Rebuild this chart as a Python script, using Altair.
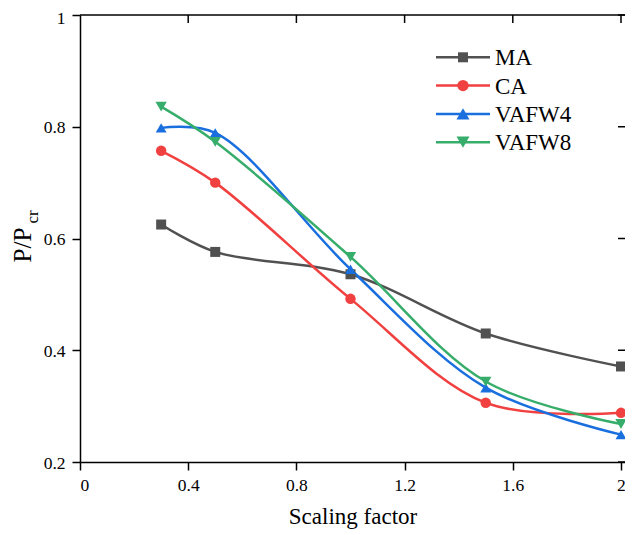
import altair as alt
import pandas as pd

# ---- data ----
x_vals = [0.3, 0.5, 1.0, 1.5, 2.0]
series = ["MA", "CA", "VAFW4", "VAFW8"]
ma = [0.625, 0.576, 0.536, 0.430, 0.371]
ca = [0.757, 0.700, 0.492, 0.306, 0.288]
vafw4 = [0.798, 0.789, 0.545, 0.333, 0.249]
vafw8 = [0.836, 0.773, 0.567, 0.344, 0.268]
colors = ["#515151", "#F14040", "#1A6FDF", "#37AD6B"]
shapes = ["square", "circle", "triangle-up", "triangle-down"]
sizes = [100, 128, 170, 170]
x_ticks = [0, 0.4, 0.8, 1.2, 1.6, 2]
y_ticks = [0.2, 0.4, 0.6, 0.8, 1]

W, H = 545, 447
XMAX = 2.0148
FONT = "Liberation Serif"

rows = []
for name, vals in zip(series, [ma, ca, vafw4, vafw8]):
    for xv, yv in zip(x_vals, vals):
        rows.append({"series": name, "x": xv, "y": yv})
df = pd.DataFrame(rows)

xscale = alt.Scale(domain=[0, XMAX], nice=False, zero=False)
yscale = alt.Scale(domain=[0.2, 1.0], nice=False, zero=False)
cscale = alt.Scale(domain=series, range=colors)
sscale = alt.Scale(domain=series, range=shapes)

xenc = alt.X("x:Q", scale=xscale,
             axis=alt.Axis(values=x_ticks, format=".1~f", title="Scaling factor",
                           labelPadding=6, titlePadding=12))
yenc = alt.Y("y:Q", scale=yscale,
             axis=alt.Axis(values=y_ticks, format=".1~f", title=None, labelPadding=7,
                           labelOffset={"condition": {"test": "datum.value >= 0.99", "value": 3},
                                        "value": 1}))

lines = alt.Chart(df).mark_line(interpolate="catmull-rom", strokeWidth=2.5).encode(
    x=xenc, y=yenc,
    color=alt.Color("series:N", scale=cscale, legend=None),
    detail="series:N",
)

points = alt.Chart(df).mark_point(filled=True, opacity=1).encode(
    x=alt.X("x:Q", scale=xscale), y=alt.Y("y:Q", scale=yscale),
    color=alt.Color("series:N", scale=cscale, legend=None),
    shape=alt.Shape("series:N", scale=sscale, legend=None),
    size=alt.Size("series:N", scale=alt.Scale(domain=series, range=sizes), legend=None),
)

# top frame line and inward ticks on top and right
top_line = alt.Chart(pd.DataFrame({"a": [0]})).mark_rule(color="black", strokeWidth=1.5).encode(
    x=alt.value(0), x2=alt.value(W), y=alt.value(0))
top_ticks = alt.Chart(pd.DataFrame({"t": x_ticks[1:]})).mark_rule(
    color="black", strokeWidth=1.5).encode(
    x=alt.X("t:Q", scale=xscale), y=alt.value(0), y2=alt.value(8))
right_ticks = alt.Chart(pd.DataFrame({"t": y_ticks})).mark_rule(
    color="black", strokeWidth=1.5).encode(
    y=alt.Y("t:Q", scale=yscale), x=alt.value(W - 7), x2=alt.value(W))

# y title with subscript
ytitle = alt.Chart(pd.DataFrame({"s": ["P/P"]})).mark_text(
    font=FONT, fontSize=25, angle=270, align="center", baseline="middle", color="black"
).encode(text="s:N", x=alt.value(-57), y=alt.value(230))
ysub = alt.Chart(pd.DataFrame({"s": ["cr"]})).mark_text(
    font=FONT, fontSize=17, angle=270, align="center", baseline="middle", color="black"
).encode(text="s:N", x=alt.value(-47), y=alt.value(202))

# manual legend (line + marker)
legend_layers = []
for i, (name, col, shp, sz) in enumerate(zip(series, colors, shapes, sizes)):
    yy = 42.3 + 28.3 * i
    d = pd.DataFrame({"name": [name]})
    legend_layers.append(alt.Chart(d).mark_rule(color=col, strokeWidth=2.5).encode(
        x=alt.value(356), x2=alt.value(410), y=alt.value(yy)))
    legend_layers.append(alt.Chart(d).mark_point(
        filled=True, opacity=1, color=col, shape=shp, size=sz).encode(
        x=alt.value(383), y=alt.value(yy)))
    legend_layers.append(alt.Chart(d).mark_text(
        font=FONT, fontSize=23, align="left", baseline="middle", color="black").encode(
        text="name:N", x=alt.value(415), y=alt.value(yy + 1)))

chart = alt.layer(lines, points, top_line, top_ticks, right_ticks, ytitle, ysub,
                  *legend_layers).properties(
    width=W, height=H,
    autosize=alt.AutoSizeParams(type="none"),
    padding={"left": 72, "top": 7, "right": 0, "bottom": 70},
).configure_view(strokeWidth=0).configure_axis(
    domainColor="black", domainWidth=1.5, tickColor="black", tickWidth=1.5, tickSize=8,
    labelFont=FONT, labelFontSize=17.5, labelColor="black", grid=False,
    titleFont=FONT, titleFontSize=23, titleFontWeight="normal", titleColor="black",
).configure_text(font=FONT)

chart.save("out.html", embed_options={"renderer": "svg", "actions": False})
